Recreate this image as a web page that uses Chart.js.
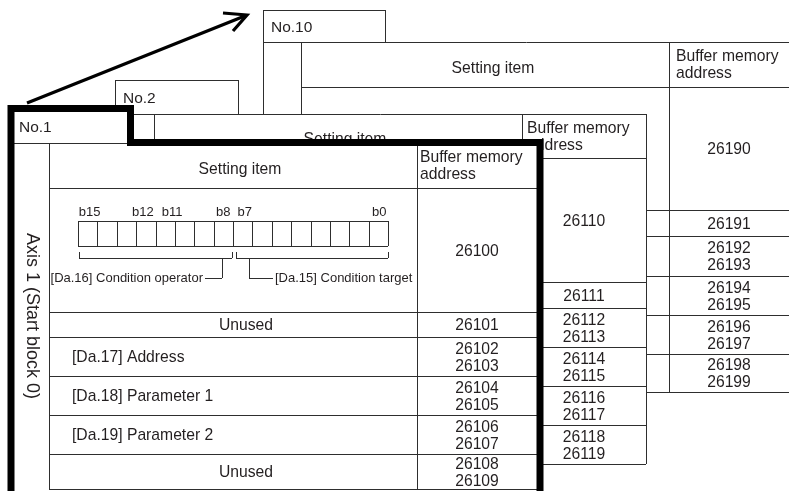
<!DOCTYPE html>
<html>
<head>
<meta charset="utf-8">
<script src="https://cdn.jsdelivr.net/npm/chart.js@4/dist/chart.umd.min.js"></script>
<style>
  html, body { margin:0; padding:0; background:#fff; }
  #wrap { width:789px; height:491px; }
</style>
</head>
<body>
<div id="wrap"><canvas id="c" width="789" height="491"></canvas></div>
<script>
// ---- content of the figure ----
const tabNames   = ['No.1', 'No.2', 'No.10'];
const headerItem = 'Setting item';
const headerAddr = ['Buffer memory', 'address'];
const axisLabel  = 'Axis 1 (Start block 0)';
const itemsNo1   = ['', 'Unused', '[Da.17] Address', '[Da.18] Parameter 1', '[Da.19] Parameter 2', 'Unused'];
const itemCenter = [false, true, false, false, false, true];
const addrNo1    = [['26100'], ['26101'], ['26102','26103'], ['26104','26105'], ['26106','26107'], ['26108','26109']];
const addrNo2    = [['26110'], ['26111'], ['26112','26113'], ['26114','26115'], ['26116','26117'], ['26118','26119']];
const addrNo10   = [['26190'], ['26191'], ['26192','26193'], ['26194','26195'], ['26196','26197'], ['26198','26199']];
const bitLabels  = ['b15', 'b12', 'b11', 'b8', 'b7', 'b0'];
const bitNumbers = [15, 12, 11, 8, 7, 0];
const fieldNames = ['[Da.16] Condition operator', '[Da.15] Condition target'];

// ---- layout (value units of the hidden x/y scales) ----
const FONT = '"Liberation Sans", Arial, sans-serif';
const INK = '#231f20';
const LINE = '#2e2e2e';
const sheets = [
  { name: tabNames[2], addr: addrNo10, tab: [263, 10, 385], body: [263, 42, 800, 392],
    col1: 301, col2: 669, rows: [87, 210, 236, 276, 315, 354, 392], itemX: 493, addrX: 729, headX: 676 },
  { name: tabNames[1], addr: addrNo2, tab: [115, 80, 238], body: [115, 114, 646, 464],
    col1: 154, col2: 522, rows: [158, 282, 308, 347, 386, 425, 464], itemX: 345, addrX: 584, headX: 527 },
  { name: tabNames[0], addr: addrNo1, tab: [11, 108.5, 130.5], body: [11, 142.5, 540, 500],
    col1: 49, col2: 417, rows: [188, 312, 337, 376, 415, 454, 489], itemX: 240, addrX: 477, headX: 420,
    items: itemsNo1, thick: true }
];
const bits = { left: 78, right: 388, top: 221, bottom: 246, labelY: 212, nudge: [2, -3, 7, 0, 2, 1] };

function drawSheet(ctx, X, Y, s) {
  const [tl, tt, tr] = s.tab;
  const [bl, bt, br, bb] = s.body;
  const sx = v => Math.round(X(v)) + 0.5, sy = v => Math.round(Y(v)) + 0.5;
  const seg = (x1, y1, x2, y2) => {
    ctx.beginPath();
    ctx.moveTo(x1 === x2 ? sx(x1) : X(x1), y1 === y2 ? sy(y1) : Y(y1));
    ctx.lineTo(x1 === x2 ? sx(x2) : X(x2), y1 === y2 ? sy(y2) : Y(y2));
    ctx.stroke();
  };
  // paper
  ctx.fillStyle = '#fff';
  ctx.beginPath();
  ctx.moveTo(X(bl), Y(bb)); ctx.lineTo(X(tl), Y(tt)); ctx.lineTo(X(tr), Y(tt));
  ctx.lineTo(X(tr), Y(bt)); ctx.lineTo(X(br), Y(bt)); ctx.lineTo(X(br), Y(bb));
  ctx.closePath(); ctx.fill();

  ctx.strokeStyle = LINE; ctx.lineWidth = 1;
  if (!s.thick) {
    seg(tl, tt, tl, bt); seg(tl, tt, tr, tt); seg(tr, tt, tr, bt);
    seg(bl, bt, bl, bb); seg(br, bt, br, bb); seg(bl, bb, br, bb);
  }
  seg(bl, s.thick ? 143 : bt, br, s.thick ? 143 : bt);
  const top = s.thick ? 143 : bt;
  seg(s.col1, top, s.col1, s.rows[s.rows.length - 1]);
  seg(s.col2, top, s.col2, s.rows[s.rows.length - 1]);
  s.rows.forEach(r => seg(s.col1, r, br, r));

  // text
  ctx.fillStyle = INK;
  ctx.textBaseline = 'middle';
  ctx.font = `15.5px ${FONT}`;
  ctx.textAlign = 'left';
  ctx.fillText(s.name, X(tl + 8), Y((tt + top) / 2 + 2));
  ctx.font = `15.7px ${FONT}`;
  ctx.textAlign = 'center';
  ctx.fillText(headerItem, X(s.itemX), Y((top + s.rows[0]) / 2 + 4));
  ctx.textAlign = 'left';
  ctx.fillText(headerAddr[0], X(s.headX), Y(top + 15));
  ctx.fillText(headerAddr[1], X(s.headX), Y(top + 32));
  ctx.textAlign = 'center';
  s.addr.forEach((vals, i) => {
    const mid = (s.rows[i] + s.rows[i + 1]) / 2 + 1.5;
    if (vals.length === 1) ctx.fillText(vals[0], X(s.addrX), Y(mid));
    else { ctx.fillText(vals[0], X(s.addrX), Y(mid - 8.5)); ctx.fillText(vals[1], X(s.addrX), Y(mid + 8.5)); }
  });
  if (s.items) {
    s.items.forEach((txt, i) => {
      if (!txt) return;
      const mid = (s.rows[i] + s.rows[i + 1]) / 2 + 1.5;
      ctx.textAlign = itemCenter[i] ? 'center' : 'left';
      ctx.fillText(txt, X(itemCenter[i] ? 246 : 72), Y(mid));
    });
    // vertical axis label
    ctx.save();
    ctx.translate(X((bl + s.col1) / 2 + 2), Y((top + s.rows[s.rows.length - 1]) / 2));
    ctx.rotate(Math.PI / 2);
    ctx.font = `18px ${FONT}`;
    ctx.textAlign = 'center';
    ctx.fillText(axisLabel, 0, 0);
    ctx.restore();
    drawBits(ctx, X, Y, seg);
  }
  if (s.thick) {
    ctx.strokeStyle = '#000'; ctx.lineWidth = 7; ctx.lineJoin = 'miter';
    ctx.beginPath();
    ctx.moveTo(X(bl), Y(bb)); ctx.lineTo(X(tl), Y(tt)); ctx.lineTo(X(tr), Y(tt));
    ctx.lineTo(X(tr), Y(bt)); ctx.lineTo(X(br), Y(bt)); ctx.lineTo(X(br), Y(bb));
    ctx.stroke();
  }
}

function drawBits(ctx, X, Y, seg) {
  const w = (bits.right - bits.left) / 16;
  ctx.strokeStyle = LINE; ctx.lineWidth = 1;
  seg(bits.left, bits.top, bits.right, bits.top);
  seg(bits.left, bits.bottom, bits.right, bits.bottom);
  for (let i = 0; i <= 16; i++) seg(bits.left + i * w, bits.top, bits.left + i * w, bits.bottom);
  ctx.font = `13px ${FONT}`;
  ctx.fillStyle = INK;
  ctx.textAlign = 'center';
  bitLabels.forEach((b, k) => {
    const cell = 15 - bitNumbers[k];
    ctx.fillText(b, X(bits.left + (cell + 0.5) * w + bits.nudge[k]), Y(bits.labelY));
  });
  // brackets
  const by = 258, ty = 252, ly = 278;
  seg(79, by, 232, by); seg(79, ty, 79, by); seg(232, ty, 232, by);
  seg(236, by, 388, by); seg(236, ty, 236, by); seg(388, ty, 388, by);
  seg(222, by, 222, ly); seg(205, ly, 222, ly);
  seg(249, by, 249, ly); seg(249, ly, 273, ly);
  ctx.textAlign = 'right';
  ctx.fillText(fieldNames[0], X(203), Y(ly));
  ctx.textAlign = 'left';
  ctx.fillText(fieldNames[1], X(275), Y(ly));
}

const sheetsPlugin = {
  id: 'sheets',
  afterDraw(chart) {
    const ctx = chart.ctx;
    const X = v => chart.scales.x.getPixelForValue(v);
    const Y = v => chart.scales.y.getPixelForValue(v);
    ctx.save();
    sheets.forEach(s => drawSheet(ctx, X, Y, s));
    // arrow No.1 -> No.10
    ctx.strokeStyle = '#000'; ctx.lineWidth = 3.2; ctx.lineCap = 'butt'; ctx.lineJoin = 'miter';
    ctx.beginPath(); ctx.moveTo(X(27), Y(103)); ctx.lineTo(X(246), Y(15.5)); ctx.stroke();
    ctx.beginPath(); ctx.moveTo(X(223), Y(13)); ctx.lineTo(X(247), Y(15)); ctx.lineTo(X(233), Y(31)); ctx.stroke();
    ctx.restore();
  }
};

new Chart(document.getElementById('c'), {
  type: 'scatter',
  data: { datasets: [] },
  options: {
    responsive: false, animation: false, devicePixelRatio: 1,
    layout: { padding: 0 },
    plugins: { legend: { display: false }, tooltip: { enabled: false } },
    scales: {
      x: { type: 'linear', min: 0, max: 789, display: false },
      y: { type: 'linear', min: 0, max: 491, reverse: true, display: false }
    }
  },
  plugins: [sheetsPlugin]
});
</script>
</body>
</html>
